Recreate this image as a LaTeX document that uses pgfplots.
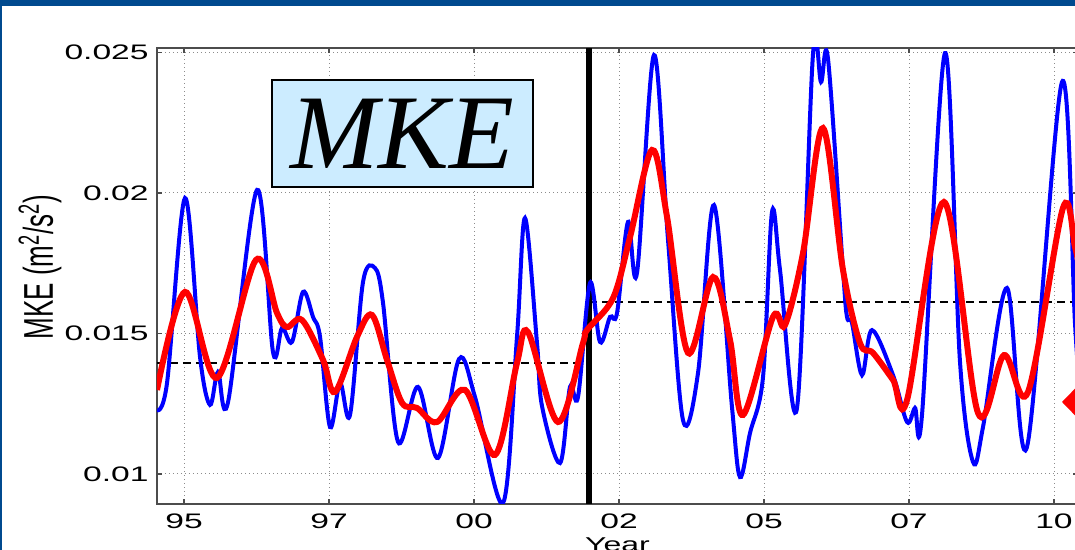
\documentclass[border=0pt]{standalone}
\usepackage{pgfplots}
\pgfplotsset{compat=1.18}
\usepackage{fontspec}
\setmainfont{Liberation Sans}
\newfontfamily\mkefont{Liberation Serif}
\usepackage{graphicx}
\definecolor{slideblue}{RGB}{0,74,143}
\definecolor{boxblue}{RGB}{204,236,255}
\newcommand{\sx}[1]{\scalebox{1.6}[1]{#1}}

\pgfplotstableread{
x y
1994.534 0.01228
1994.707 0.01324
1995.017 0.01982
1995.276 0.01416
1995.448 0.01246
1995.586 0.01363
1995.759 0.01256
1996.259 0.02011
1996.534 0.01434
1996.690 0.01520
1996.862 0.01470
1997.052 0.01648
1997.224 0.01559
1997.345 0.01488
1997.517 0.01167
1997.690 0.01324
1997.862 0.01210
1998.086 0.01683
1998.293 0.01733
1998.431 0.01609
1998.690 0.01114
1999.034 0.01310
1999.379 0.01057
1999.741 0.01409
2000.017 0.01274
2000.500 0.00897
2000.741 0.01488
2000.879 0.01911
2001.086 0.01466
2001.172 0.01242
2001.483 0.01039
2001.655 0.01310
2001.793 0.01274
2002.000 0.01680
2002.172 0.01470
2002.345 0.01559
2002.466 0.01573
2002.655 0.01897
2002.810 0.01715
2003.103 0.02491
2003.345 0.01833
2003.603 0.01192
2003.862 0.01359
2004.138 0.01957
2004.448 0.01238
2004.586 0.00989
2004.759 0.01146
2004.983 0.01345
2005.138 0.01932
2005.276 0.01726
2005.569 0.01235
2005.845 0.02495
2005.983 0.02395
2006.103 0.02478
2006.362 0.01726
2006.431 0.01559
2006.517 0.01537
2006.690 0.01352
2006.862 0.01512
2007.224 0.01352
2007.466 0.01185
2007.603 0.01235
2007.724 0.01210
2008.121 0.02498
2008.379 0.01400
2008.603 0.01043
2008.776 0.01167
2009.190 0.01662
2009.534 0.01096
2010.138 0.02395
2010.362 0.01537
2010.450 0.01280
}\bluedata

\pgfplotstableread{
x y
1994.534 0.01299
1995.017 0.01648
1995.569 0.01342
1996.241 0.01762
1996.603 0.01573
1996.776 0.01523
1997.034 0.01548
1997.397 0.01406
1997.603 0.01292
1997.983 0.01488
1998.241 0.01566
1998.500 0.01406
1998.759 0.01253
1999.017 0.01235
1999.362 0.01185
1999.845 0.01299
2000.362 0.01068
2000.741 0.01395
2000.931 0.01505
2001.448 0.01185
2001.879 0.01466
2001.948 0.01512
2002.397 0.01626
2002.690 0.01843
2003.069 0.02153
2003.328 0.01915
2003.690 0.01431
2004.121 0.01701
2004.414 0.01477
2004.638 0.01210
2005.155 0.01559
2005.362 0.01530
2005.672 0.01786
2006.017 0.02231
2006.362 0.01726
2006.655 0.01466
2006.879 0.01431
2007.224 0.01335
2007.466 0.01263
2008.103 0.01968
2008.690 0.01217
2009.138 0.01423
2009.552 0.01292
2010.155 0.01947
2010.362 0.01808
2010.450 0.01720
}\reddata

\begin{document}
\begin{tikzpicture}
\useasboundingbox (0,0) rectangle (537.5pt,275pt);
\clip (0,0) rectangle (537.5pt,275pt);
\fill[white] (0,0) rectangle (537.5pt,275pt);
\begin{axis}[
  at={(78.5pt,23pt)}, anchor=south west,
  scale only axis, width=460.5pt, height=228pt,
  xmin=1994.534, xmax=2010.414, ymin=0.008932, ymax=0.025160,
  scaled y ticks=false, scaled x ticks=false,
  xtick={1995,1997.5,2000,2002.5,2005,2007.5,2010},
  xticklabels={\sx{95},\sx{97},\sx{00},\sx{02},\sx{05},\sx{07},\sx{10}},
  ytick={0.01,0.015,0.02,0.025},
  yticklabels={\sx{0.01},\sx{0.015},\sx{0.02},\sx{0.025}},
  tick label style={font=\fontsize{10.5}{12}\selectfont},
  xticklabel style={inner sep=0pt, anchor=north, yshift=-4.5pt},
  yticklabel style={inner sep=0pt, anchor=east, xshift=-4pt},
  grid=major,
  major grid style={line width=0.5pt, black!45, dash pattern=on 0.5pt off 1.5pt},
  axis line style={black!70, line width=0.6pt},
  tick align=inside, major tick length=2.5pt,
  tick style={black!70, line width=0.6pt},
  xlabel={\sx{Year}},
  xlabel style={at={(axis description cs:0.5,0)}, anchor=north, inner sep=0pt, yshift=-16.5pt, font=\fontsize{10}{12}\selectfont},
  ylabel={\scalebox{1}[1.6]{MKE (m\textsuperscript{2}/s\textsuperscript{2})}},
  ylabel style={at={(axis description cs:-0.127,0.52)}, anchor=center, inner sep=0pt, font=\fontsize{13}{15}\selectfont},
]
\addplot[black, line width=1pt, dash pattern=on 4pt off 2.5pt] coordinates {(1994.534,0.01395) (2001.98,0.01395)};
\addplot[black, line width=1pt, dash pattern=on 4pt off 2.5pt] coordinates {(2001.98,0.01612) (2010.414,0.01612)};
\addplot[black, line width=3.3pt] coordinates {(2001.98,0.008932) (2001.98,0.02516)};
\addplot[blue, line width=2pt, smooth, tension=0.55] table[x=x,y=y] {\bluedata};
\addplot[red, line width=3pt, smooth, tension=0.55] table[x=x,y=y] {\reddata};
\end{axis}
\node[draw=black, line width=1pt, fill=boxblue, minimum width=130.5pt, minimum height=53.5pt, inner sep=0pt]
  at (201.25pt,208.25pt) {\mkefont\itshape\fontsize{53}{53}\selectfont MKE};
\fill[slideblue] (0,272pt) rectangle (537.5pt,275pt);
\fill[slideblue] (0,0) rectangle (1pt,275pt);
\fill[red] (531pt,74pt) -- (540pt,83.25pt) -- (549pt,74pt) -- (540pt,64.75pt) -- cycle;
\end{tikzpicture}
\end{document}
